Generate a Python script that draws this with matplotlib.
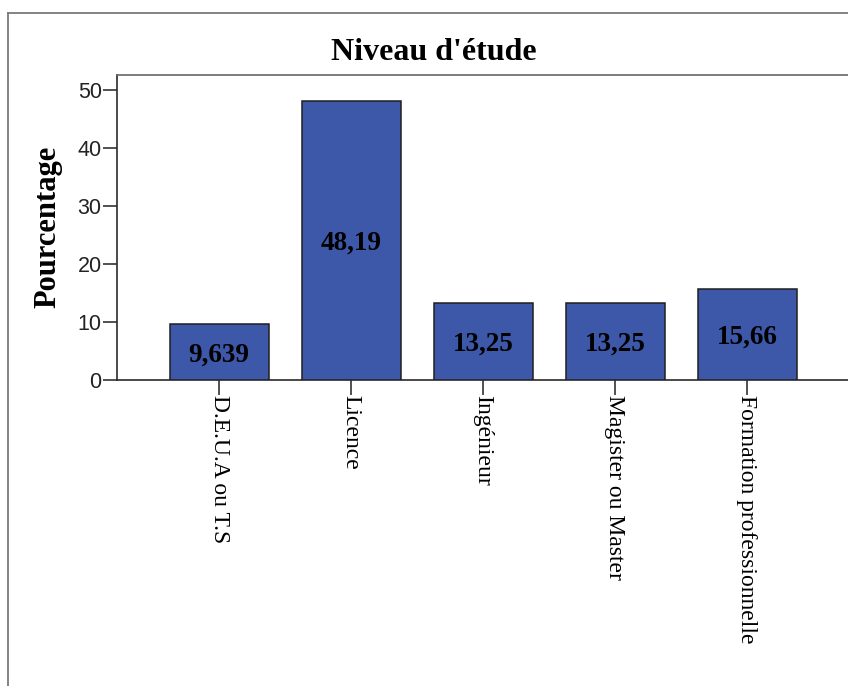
import matplotlib
matplotlib.use("Agg")
import matplotlib.pyplot as plt
from matplotlib.lines import Line2D

# Répartition par niveau d'étude (%)
categories = ["D.E.U.A ou T.S", "Licence", "Ingénieur", "Magister ou Master",
              "Formation professionnelle"]
percentages = [9.639, 48.19, 13.25, 13.25, 15.66]
value_labels = ["9,639", "48,19", "13,25", "13,25", "15,66"]
y_ticks = [0, 10, 20, 30, 40, 50]

W, H, DPI = 848, 686, 100
fig = plt.figure(figsize=(W / DPI, H / DPI), dpi=DPI)
fig.patch.set_facecolor("white")

# plot frame in pixel coordinates
left_px, right_px, top_px, bottom_px = 117, 851, 75, 380
ax = fig.add_axes([left_px / W, 1 - bottom_px / H,
                   (right_px - left_px) / W, (bottom_px - top_px) / H])

spacing_px = 132.0
first_center_px = 219.0
x0 = -(first_center_px - left_px) / spacing_px
x1 = x0 + (right_px - left_px) / spacing_px
ax.set_xlim(x0, x1)
ax.set_ylim(0, 52.6)

positions = list(range(len(categories)))
ax.bar(positions, percentages, width=0.75, color="#3E58A9",
       edgecolor="#1f1f1f", linewidth=1.1, zorder=3)

for xpos, val, lab in zip(positions, percentages, value_labels):
    ax.text(xpos, val / 2, lab, ha="center", va="center_baseline",
            family="Liberation Serif", fontweight="bold", fontsize=19.5,
            color="black", zorder=4)

ax.set_yticks(y_ticks)
ax.set_yticklabels([str(t) for t in y_ticks], family="Liberation Sans",
                   fontsize=15.5, color="#222222")
ax.set_xticks(positions)
ax.set_xticklabels(categories, rotation=270, family="Liberation Serif",
                   fontsize=17, color="black", ha="center", va="top")

ax.tick_params(axis="y", direction="out", length=10, width=1.2,
               color="#333333", pad=1)
ax.tick_params(axis="x", direction="out", length=11, width=1.2,
               color="#333333", pad=0)

for side in ("left", "bottom"):
    ax.spines[side].set_color("#2a2a2a")
    ax.spines[side].set_linewidth(1.2)
ax.spines["top"].set_color("#666666")
ax.spines["top"].set_linewidth(1.2)
ax.spines["right"].set_visible(False)

# axis title and chart title
fig.text(48 / W, 1 - 227 / H, "Pourcentage", rotation=90, ha="center",
         va="center", family="Liberation Serif", fontweight="bold",
         fontsize=22)
fig.text(434 / W, 1 - 52 / H, "Niveau d'étude", ha="center", va="center",
         family="Liberation Serif", fontweight="bold", fontsize=23)

# outer chart border (top and left edges)
fig.add_artist(Line2D([8 / W, 1.0], [1 - 13 / H, 1 - 13 / H],
                      transform=fig.transFigure, color="#7a7a7a", lw=1.3))
fig.add_artist(Line2D([8 / W, 8 / W], [0.0, 1 - 13 / H],
                      transform=fig.transFigure, color="#7a7a7a", lw=1.3))

fig.savefig("out.png", dpi=DPI, facecolor="white")
